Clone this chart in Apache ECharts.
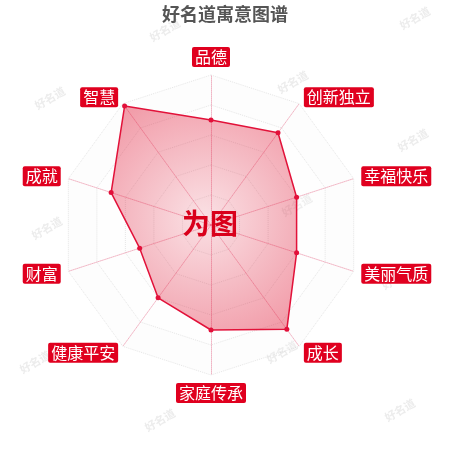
<!DOCTYPE html>
<html lang="zh">

<head>
    <meta charset="UTF-8">
    <title>好名道寓意图谱</title>
    <script src="https://cdn.jsdelivr.net/npm/echarts@6/dist/echarts.min.js"></script>
    <style>
        body { margin: 0; background: #fff; }
    </style>
</head>

<body>
    <div id="main" style="width: 450px;height:450px;"></div>
    <script type="text/javascript">
        // indicator names, counterclockwise from the top (echarts radar order)
        const indicatorNames = ['品德', '智慧', '成就', '财富', '健康平安', '家庭传承', '成长', '美丽气质', '幸福快乐', '创新独立'];
        const scores = [70, 98, 70, 50, 60, 70, 86, 60, 60, 76];
        const maxScore = 100;

        const red = '#e0001f';

        // faint watermark texts
        const marks = [[50, 98], [165, 30], [293, 82], [415, 18], [413, 140], [47, 228], [297, 205],
            [397, 278], [35, 362], [160, 420], [282, 352], [400, 410]];
        const watermarks = marks.map(p => ({
            type: 'text',
            x: p[0], y: p[1],
            rotation: Math.PI / 6,
            z: 0,
            silent: true,
            style: {
                text: '好名道',
                fill: 'rgba(200,200,200,0.35)',
                font: 'bold 11px "Noto Sans CJK SC"',
                align: 'center',
                verticalAlign: 'middle'
            }
        }));

        let options = {
            backgroundColor: '#fff',
            title: {
                text: '好名道寓意图谱',
                left: 'center',
                top: 0,
                textStyle: { fontSize: 18, fontWeight: 'bold', color: '#555', fontFamily: 'Noto Sans CJK SC' }
            },
            radar: {
                center: [211, 225],
                radius: 150,
                splitNumber: 5,
                nameGap: 8,
                indicator: indicatorNames.map(n => ({ name: n, max: maxScore })),
                axisName: {
                    color: '#fff',
                    backgroundColor: red,
                    borderRadius: 2,
                    padding: [2, 3],
                    fontSize: 16,
                    fontFamily: 'Noto Sans CJK SC'
                },
                axisLine: { lineStyle: { color: 'rgba(230,110,140,0.5)', type: 'dotted' } },
                splitLine: { lineStyle: { color: 'rgba(205,205,205,0.5)', type: 'dotted' } },
                splitArea: { areaStyle: { color: ['rgba(245,245,245,0.2)', 'rgba(252,252,252,0.2)'] } }
            },
            series: [{
                type: 'radar',
                symbol: 'circle',
                symbolSize: 5,
                itemStyle: { color: '#e2103a' },
                lineStyle: { color: '#e2103a', width: 1.5 },
                areaStyle: {
                    color: new echarts.graphic.RadialGradient(0.5, 0.5, 0.7, [
                        { offset: 0, color: 'rgba(225,25,55,0.18)' },
                        { offset: 1, color: 'rgba(225,25,55,0.6)' }
                    ])
                },
                data: [{ value: scores, name: '寓意' }]
            }],
            graphic: watermarks.concat([{
                type: 'text',
                x: 210, y: 223,
                z: 100,
                style: {
                    text: '为图',
                    fill: '#d9001b',
                    font: 'bold 28px "Noto Sans CJK SC"',
                    align: 'center',
                    verticalAlign: 'middle'
                }
            }])
        };

        let myChart = echarts.init(document.getElementById('main'));
        myChart.setOption(options);
    </script>
</body>

</html>
